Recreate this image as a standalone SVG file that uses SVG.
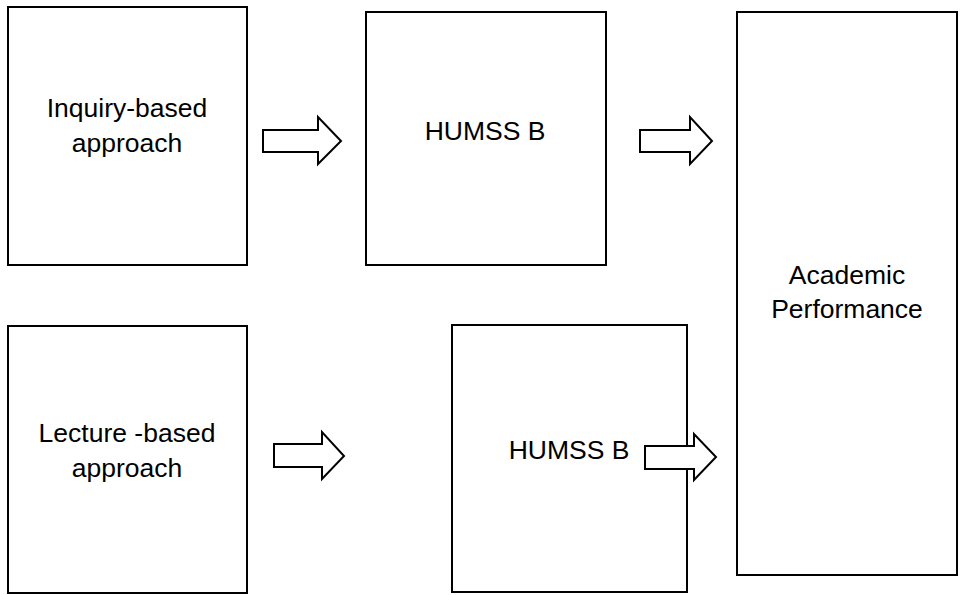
<svg xmlns="http://www.w3.org/2000/svg" width="960" height="595" viewBox="0 0 960 595">
<style>
.b{fill:#fff;stroke:#000;stroke-width:2}
.a{fill:#fff;stroke:#000;stroke-width:2;stroke-linejoin:miter}
text{font-family:Arial,"Liberation Sans",sans-serif;font-size:26.5px;fill:#000;text-anchor:middle}
</style>
<rect width="960" height="595" fill="#fff"/>
<g id="inquiry"><rect class="b" x="8" y="7" width="239" height="258"/><text x="127" y="117">Inquiry-based</text><text x="127" y="152">approach</text></g>
<g id="humss1"><rect class="b" x="366" y="12" width="240" height="253"/><text x="485" y="140">HUMSS B</text></g>
<g id="academic"><rect class="b" x="737" y="12" width="220" height="563"/><text x="847" y="284">Academic</text><text x="847" y="318">Performance</text></g>
<g id="lecture"><rect class="b" x="8" y="326" width="239" height="267"/><text x="127" y="442">Lecture -based</text><text x="127" y="477">approach</text></g>
<g id="humss2"><rect class="b" x="452" y="325" width="235" height="267"/><text x="569" y="459">HUMSS B</text></g>
<g id="connectors">
<path class="a" d="M263,130H318V117L341,141L318,164V152H263Z"/>
<path class="a" d="M640,130H690V117L712,141L690,164V152H640Z"/>
<path class="a" d="M274,444H322V432L344,456L322,479V467H274Z"/>
<path class="a" d="M645,446H694V434L716,457L694,480V469H645Z"/>
</g>
</svg>
